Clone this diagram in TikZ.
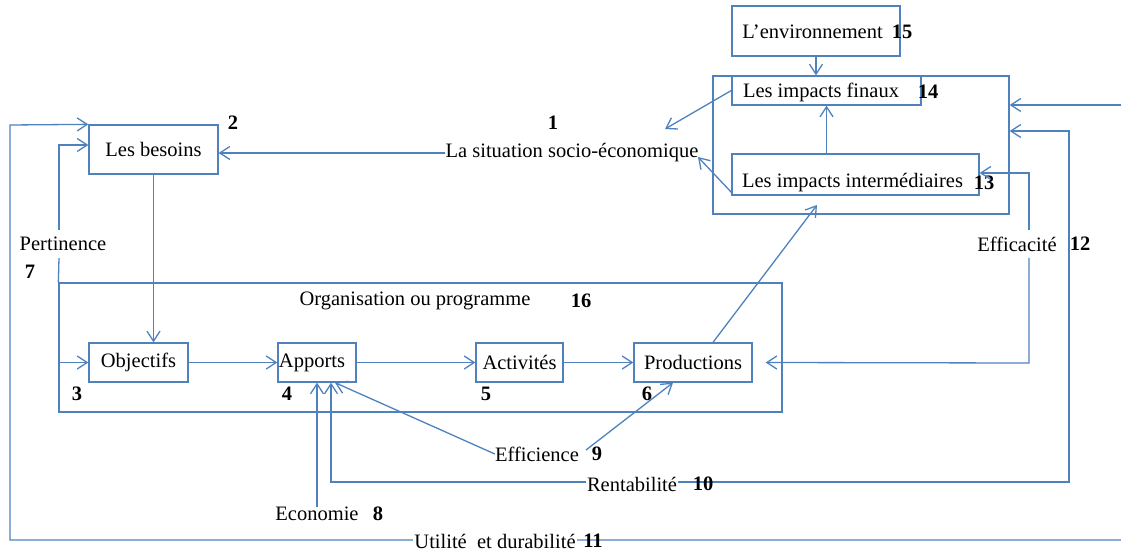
\documentclass[tikz,border=0pt]{standalone}
\usepackage{fontspec}
\setmainfont{Liberation Serif}
\usetikzlibrary{arrows.meta}
\definecolor{lb}{RGB}{79,129,189}
\begin{document}
\begin{tikzpicture}[x=1pt,y=-1pt,
  every node/.style={font=\fontsize{20.5}{24}\selectfont, inner sep=0pt},
  ln/.style={draw=lb, line width=1.3pt},
  arr/.style={ln, -{Straight Barb[length=10pt,width=13pt,line width=1.3pt]}},
  box/.style={draw=lb, line width=1.3pt, rectangle},
  num/.style={font=\fontsize{20.5}{24}\selectfont\bfseries},
  wtext/.style={fill=white, inner xsep=1pt, inner ysep=0pt}]
\useasboundingbox (0,0) rectangle (1121,553);

% boxes
\node[box, minimum width=129pt, minimum height=49pt] (besoins) at (153.5,149.5) {Les besoins};
\node[box, minimum width=168pt, minimum height=50pt] (env) at (816,31) {};
\node[box, minimum width=296pt, minimum height=138pt] (outer) at (861,145) {};
\node[box, minimum width=189pt, minimum height=29pt] (finaux) at (826.5,90.5) {};
\node[box, minimum width=247pt, minimum height=41pt] (interm) at (855.5,174.5) {};
\node[box, minimum width=723pt, minimum height=129pt] (org) at (420.5,347.5) {};
\node[box, minimum width=99pt, minimum height=39pt] (obj) at (138.5,362.5) {Objectifs};
\node[box, minimum width=78pt, minimum height=39pt] (app) at (317,362.5) {};
\node[box, minimum width=87pt, minimum height=39pt] (act) at (519.5,362.5) {Activités};
\node[box, minimum width=118pt, minimum height=39pt] (prod) at (693,362.5) {Productions};

% texts
\node (tapp) at (312,363) {Apports};
\node (tenv) at (812.5,32) {L’environnement};
\node[num] (n15) at (902,32) {15};
\node (tfin) at (821,92) {Les impacts finaux};
\node[num] (n14) at (928,92) {14};
\node (tint) at (852.5,183) {Les impacts intermédiaires};
\node[num] (n13) at (984,183) {13};
\node (sit) at (572,153) {La situation\ socio-économique};
\node[num] (n1) at (553,123) {1};
\node[num] (n2) at (233,123) {2};
\node (torg) at (415,301) {Organisation\ ou programme};
\node[num] (n16) at (581,301) {16};
\node[num] (n3) at (77,394) {3};
\node[num] (n4) at (287,394) {4};
\node[num] (n5) at (486,394) {5};
\node[num] (n6) at (647,394) {6};
\node (pert) at (63,244) {Pertinence};
\node[num] (n7) at (30,272) {7};
\node (effa) at (1017,244) {Efficacité};
\node[num] (n12) at (1080,244) {12};
\node (eco) at (317,514) {Economie};
\node[num] (n8) at (378,514) {8};
\node (effi) at (537,454) {Efficience};
\node[num] (n9) at (597,454) {9};

% free ends
\coordinate (uR) at (1121,540);
\coordinate (uT) at (1121,105);
\coordinate (s1) at (665,129);
\coordinate (s2) at (698,157);
\coordinate (i1) at (732,193);
\coordinate (pi) at (817,205);
\coordinate (e9) at (586,450);
\coordinate (ef1) at (1029,258);
\coordinate (ef2) at (1029,230);

% connectors
\draw[arr] (sit.west) -- (sit.west -| besoins.east);
\draw[arr] (finaux.west) -- (s1);
\draw[arr] (i1) -- (s2);
\draw[arr] (env.south) -- (env.south |- finaux.north);
\draw[arr] (interm.north -| finaux.south) -- (finaux.south);
\draw[arr] ([xshift=20pt]prod.north) -- (pi);
\draw[arr] (uR) -- (10,540) -- (10,125) -- (besoins.north west);
\draw[arr] (uT) -- (uT -| outer.east);
\draw[ln, {Straight Barb[length=10pt,width=13pt,line width=1.3pt]}-{Straight Barb[length=10pt,width=13pt,line width=1.3pt]}]
  (outer.east |- 0,131) -- (1069,131) -- (1069,482) -- (331,482) -- ([xshift=14pt]app.south);
\draw[arr] (eco.north) -- (eco.north |- app.south);
\draw[arr] (effi.west) -- ([xshift=18pt]app.south);
\draw[arr] (e9) -- ([xshift=-20pt]prod.south);
\draw[arr] (ef1) -- (1029,363) -- ([xshift=13pt]prod.east);
\draw[arr] (ef2) -- (1029,173) -- (interm.east |- 0,173);
\draw[arr] (besoins.south) -- (besoins.south |- obj.north);
\draw[arr] (obj.west -| org.west) -- (obj.west);
\draw[ln] (org.north west) -- (59,258);
\draw[arr] (59,230) -- (59,145) -- (besoins.west |- 0,145);
\draw[arr] (obj.east) -- (app.west);
\draw[arr] (app.east) -- (act.west);
\draw[arr] (act.east) -- (prod.west);

% texts on lines
\node[wtext] (rent) at (632,484) {Rentabilité};
\node[num] (n10) at (703,484) {10};
\node[wtext] (util) at (495,541) {Utilité\ \ et durabilité};
\node[num] (n11) at (593,541) {11};
\end{tikzpicture}
\end{document}
